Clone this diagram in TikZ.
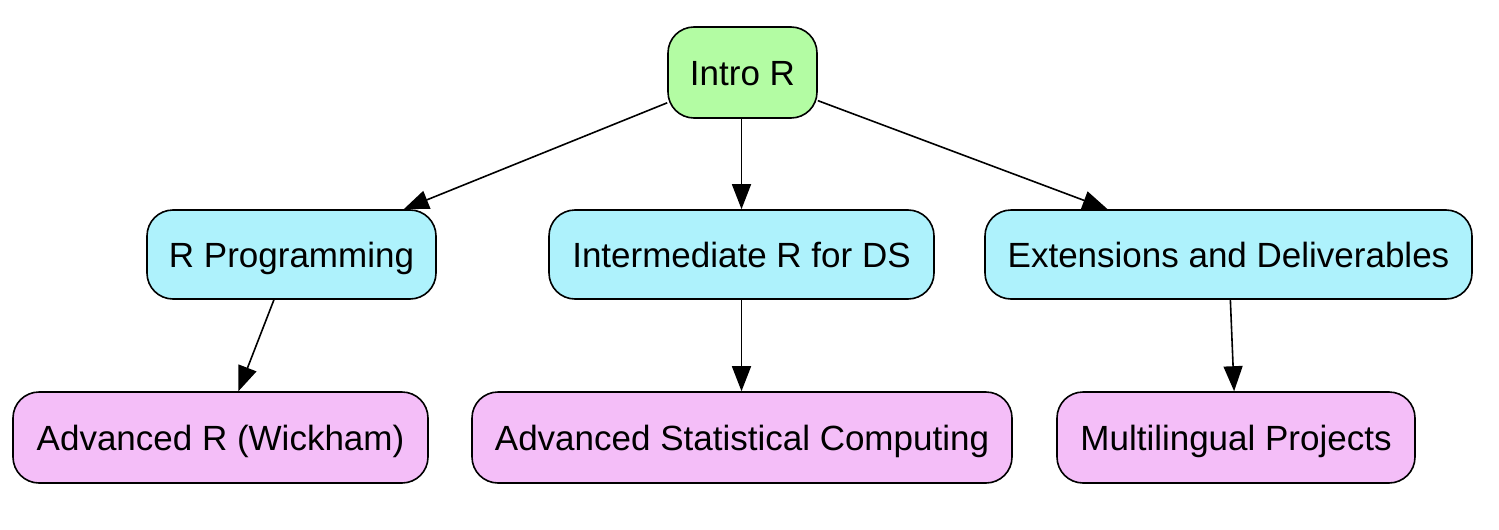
\documentclass[tikz,border=0pt]{standalone}
\usepackage{fontspec}
\setmainfont{Liberation Sans}
\usetikzlibrary{arrows.meta}
\definecolor{cgreen}{HTML}{B3FCA3}
\definecolor{ccyan}{HTML}{AEF2FC}
\definecolor{cpink}{HTML}{F4BEF8}
\begin{document}
\begin{tikzpicture}[x=1pt,y=-1pt,
  box/.style={draw=black,line width=1.6pt,rounded corners=26pt,font=\fontsize{35}{40}\selectfont,inner sep=0pt,text height=32pt,text depth=7pt},
  edge/.style={line width=1.6pt,-{Triangle[length=25pt,width=19pt]}}]
\useasboundingbox (0,0) rectangle (1499,530);
\node[box,fill=cgreen,minimum width=149pt,minimum height=91pt] (intro) at (742.5,72.5) {Intro R};
\node[box,fill=ccyan,minimum width=289pt,minimum height=89pt] (rprog) at (291.5,254.5) {R Programming};
\node[box,fill=ccyan,minimum width=385pt,minimum height=89pt] (inter) at (741.5,254.5) {Intermediate R for DS};
\node[box,fill=ccyan,minimum width=487pt,minimum height=89pt] (ext) at (1228.5,254.5) {Extensions and Deliverables};
\node[box,fill=cpink,minimum width=415pt,minimum height=91pt] (advr) at (220.5,437.5) {Advanced R (Wickham)};
\node[box,fill=cpink,minimum width=540pt,minimum height=91pt] (asc) at (742,437.5) {Advanced Statistical Computing};
\node[box,fill=cpink,minimum width=358pt,minimum height=91pt] (multi) at (1236,437.5) {Multilingual Projects};
\draw[edge] (inter.north |- intro.south) -- (inter.north);
\draw[edge] (intro) -- (rprog);
\draw[edge] (intro) -- (ext);
\draw[edge] (rprog) -- (advr);
\draw[edge] (inter.south) -- (inter.south |- asc.north);
\draw[edge] (ext) -- (multi);
\end{tikzpicture}
\end{document}
